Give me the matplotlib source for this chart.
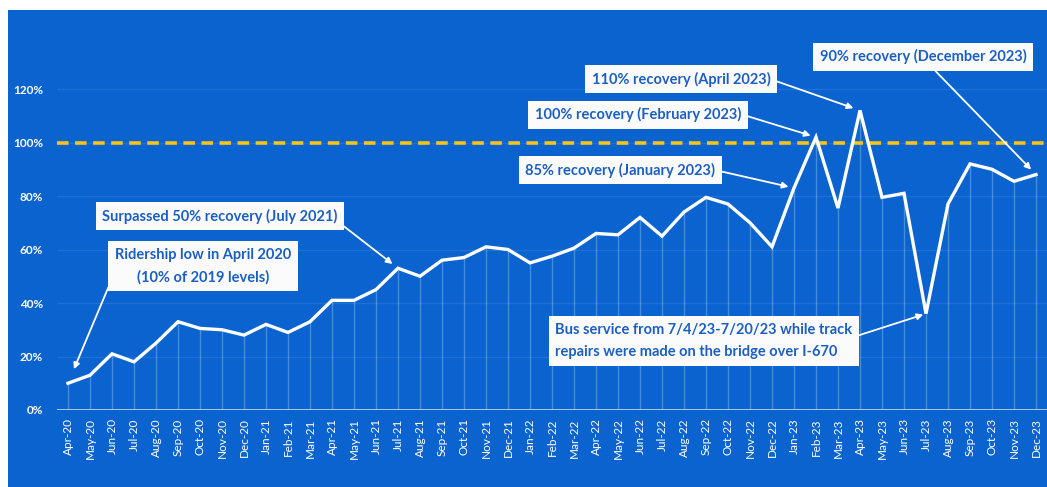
import matplotlib.pyplot as plt
from matplotlib.patches import Rectangle

# Ridership recovery vs 2019 levels, Apr 2020 - Dec 2023
months = ["Apr-20", "May-20", "Jun-20", "Jul-20", "Aug-20", "Sep-20", "Oct-20", "Nov-20", "Dec-20",
          "Jan-21", "Feb-21", "Mar-21", "Apr-21", "May-21", "Jun-21", "Jul-21", "Aug-21", "Sep-21",
          "Oct-21", "Nov-21", "Dec-21",
          "Jan-22", "Feb-22", "Mar-22", "Apr-22", "May-22", "Jun-22", "Jul-22", "Aug-22", "Sep-22",
          "Oct-22", "Nov-22", "Dec-22",
          "Jan-23", "Feb-23", "Mar-23", "Apr-23", "May-23", "Jun-23", "Jul-23", "Aug-23", "Sep-23",
          "Oct-23", "Nov-23", "Dec-23"]
recovery = [10, 13, 21, 18, 25, 33, 30.5, 30, 28,
            32, 29, 33, 41, 41, 45, 53, 50, 56,
            57, 61, 60,
            55, 57.5, 60.5, 66, 65.5, 72, 65, 74, 79.5,
            77, 70, 61,
            83, 102, 75.5, 112, 79.5, 81, 36, 77, 92,
            90, 85.5, 88]
yticks = [0, 20, 40, 60, 80, 100, 120]
target = 100

notes = [
    ("Ridership low in April 2020\n(10% of 2019 levels)", "Apr-20"),
    ("Surpassed 50% recovery (July 2021)", "Jul-21"),
    ("85% recovery (January 2023)", "Jan-23"),
    ("100% recovery (February 2023)", "Feb-23"),
    ("110% recovery (April 2023)", "Apr-23"),
    ("90% recovery (December 2023)", "Dec-23"),
    ("Bus service from 7/4/23-7/20/23 while track\nrepairs were made on the bridge over I-670", "Jul-23"),
]

blue = "#0b63cf"
textblue = "#1c5fc4"
font = ["Lato", "DejaVu Sans"]

fig = plt.figure(figsize=(10.47, 4.87), dpi=100, facecolor="white")
fig.patches.append(Rectangle((8 / 1047, 0), 1, 1 - 10 / 487, transform=fig.transFigure,
                             facecolor=blue, edgecolor="none", zorder=-10))

ax = fig.add_axes([57 / 1047, 77 / 487, 990 / 1047, 390 / 487])
ax.set_facecolor("none")
x = list(range(len(months)))

for y in yticks[1:]:
    ax.axhline(y, color="#1d70d8", lw=1, zorder=1)
ax.vlines(x, 0, recovery, color="white", alpha=0.25, lw=1, zorder=2)
ax.axhline(0, color="#b0d4f4", lw=2, zorder=3)
ax.axhline(target, color="#f5c518", lw=2.6, dashes=(3.2, 1.8), zorder=3)
ax.plot(x, recovery, color="white", lw=2.4, zorder=4, solid_joinstyle="miter")

ax.set_xlim(-0.5, len(months) - 0.5)
ax.set_ylim(0, 145.8)
ax.set_yticks(yticks)
ax.set_yticklabels([f"{v}%" for v in yticks], color="white", fontsize=8.5,
                   fontweight="bold", family=font)
ax.set_xticks(x)
ax.set_xticklabels(months, rotation=90, color="white", fontsize=8.5, family=font)
ax.tick_params(axis="both", length=0)
ax.tick_params(axis="y", pad=10)
ax.tick_params(axis="x", pad=6)
for s in ax.spines.values():
    s.set_visible(False)

# text centre (data units), arrow start on box, shrink at point
layout = {
    "Apr-20": ((6.14, 53.8), (0.0, 0.35), 11, "center"),
    "Jul-21": ((6.9, 72.5), (1.0, 0.15), 5, "center"),
    "Jan-23": ((25.1, 89.7), (1.0, 0.5), 4, "center"),
    "Feb-23": ((25.9, 110.3), (1.0, 0.55), 4, "center"),
    "Apr-23": ((27.86, 123.7), (1.0, 0.5), 5, "center"),
    "Dec-23": ((38.86, 132.0), (0.53, 0.0), 5, "center"),
    "Jul-23": ((28.9, 25.8), (1.0, 0.6), 2, "left"),
}
for label, month in notes:
    (tx, ty), rel, shrink, align = layout[month]
    i = months.index(month)
    ax.annotate(label, xy=(i, recovery[i]), xytext=(tx, ty), textcoords="data",
                ha="center", va="center", multialignment=align,
                fontsize=10.5, fontweight="bold", color=textblue, family=font,
                linespacing=1.75, zorder=6,
                bbox=dict(boxstyle="square,pad=0.45", facecolor="#fbfbfb", edgecolor="none"),
                arrowprops=dict(arrowstyle="-|>", color="white", lw=1.3, relpos=rel,
                                shrinkA=0, shrinkB=shrink, mutation_scale=9))

fig.savefig("out.png", dpi=100, facecolor="white")
